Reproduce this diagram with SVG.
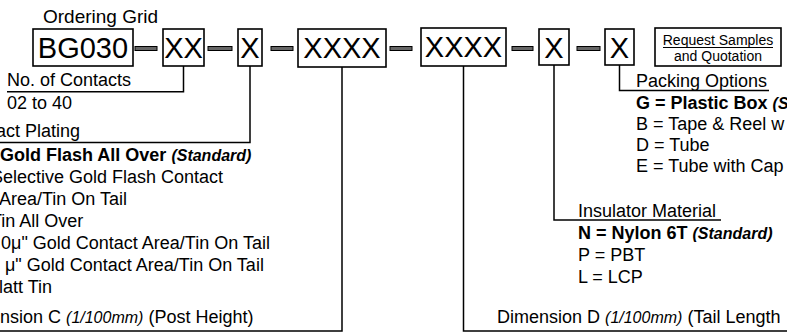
<svg xmlns="http://www.w3.org/2000/svg" width="787" height="336" viewBox="0 0 787 336">
<style>
text{font-family:"Liberation Sans",Arial,Helvetica,sans-serif;fill:#000}
.box{fill:#fff;stroke:#000;stroke-width:1.6}
.code{font-size:29px;text-anchor:middle}
.lbl{font-size:18px}
.b{font-weight:bold}
.it{font-style:italic;font-size:16px}
.wire{fill:none;stroke:#000;stroke-width:1.5}
.dash{fill:#666;stroke:#000;stroke-width:1}
.req{font-size:14px;text-anchor:middle}
</style>
<rect width="787" height="336" fill="#fff"/>
<g id="title"><text x="43" y="23" font-size="19">Ordering Grid</text></g>
<g id="connectors">
<rect class="dash" x="135" y="46.5" width="22" height="4"/>
<rect class="dash" x="208" y="46.5" width="24" height="4"/>
<rect class="dash" x="271" y="46.5" width="22" height="4"/>
<rect class="dash" x="390" y="46.5" width="22" height="4"/>
<rect class="dash" x="512" y="46.5" width="21" height="4"/>
<rect class="dash" x="577" y="46.5" width="23" height="4"/>
<path class="wire" d="M183.5 66V91.7H7"/>
<path class="wire" d="M250 66V142.5H0"/>
<path class="wire" d="M342 67V331H0"/>
<path class="wire" d="M463.5 66V331H787"/>
<path class="wire" d="M554 65V220H721"/>
<path class="wire" d="M619.5 65V90.5H769"/>
</g>
<g id="box-bg030"><rect class="box" x="33" y="29" width="100" height="37"/><text class="code" x="83" y="58" font-size="30">BG030</text></g>
<g id="box-xx"><rect class="box" x="163" y="29" width="41" height="37"/><text class="code" x="183.5" y="58">XX</text></g>
<g id="box-x1"><rect class="box" x="238" y="29" width="24" height="37"/><text class="code" x="250" y="58">X</text></g>
<g id="box-xxxx1"><rect class="box" x="298" y="29" width="88" height="38"/><text class="code" x="342" y="58">XXXX</text></g>
<g id="box-xxxx2"><rect class="box" x="421" y="28" width="85" height="38"/><text class="code" x="463.5" y="57">XXXX</text></g>
<g id="box-x2"><rect class="box" x="539" y="29" width="30" height="36"/><text class="code" x="554" y="58">X</text></g>
<g id="box-x3"><rect class="box" x="605" y="29" width="29" height="36"/><text class="code" x="619.5" y="58">X</text></g>
<g id="request"><rect class="box" x="655" y="28" width="126" height="38" stroke-width="2"/>
<text class="req" x="718" y="45">Request Samples</text><line x1="663" y1="47.5" x2="773" y2="47.5" stroke="#000" stroke-width="1"/>
<text class="req" x="718" y="61">and Quotation</text></g>
<g id="contacts">
<text class="lbl" x="7" y="86">No. of Contacts</text>
<text class="lbl" x="7" y="109">02 to 40</text>
</g>
<g id="plating">
<text class="lbl" x="-4" y="137">act Plating</text>
<text class="lbl b" x="0" y="161">Gold Flash All Over <tspan class="it">(Standard)</tspan></text>
<text class="lbl" x="-9" y="183">Selective Gold Flash Contact</text>
<text class="lbl" x="-1" y="205">Area/Tin On Tail</text>
<text class="lbl" x="-9" y="227">Tin All Over</text>
<text class="lbl" x="1" y="249">0μ" Gold Contact Area/Tin On Tail</text>
<text class="lbl" x="5" y="271">μ" Gold Contact Area/Tin On Tail</text>
<text class="lbl" x="-1" y="293">latt Tin</text>
</g>
<g id="dim-c"><text class="lbl" x="0" y="323">nsion C <tspan class="it" font-size="17">(1/100mm)</tspan> (Post Height)</text></g>
<g id="dim-d"><text class="lbl" x="497" y="323">Dimension D <tspan class="it" font-size="17">(1/100mm)</tspan> (Tail Length</text></g>
<g id="insulator">
<text class="lbl" x="578" y="217">Insulator Material</text>
<text class="lbl b" x="578" y="239">N = Nylon 6T <tspan class="it">(Standard)</tspan></text>
<text class="lbl" x="578" y="261">P = PBT</text>
<text class="lbl" x="578" y="283">L = LCP</text>
</g>
<g id="packing">
<text class="lbl" x="636" y="87">Packing Options</text>
<text class="lbl b" x="636" y="109">G = Plastic Box <tspan class="it">(S</tspan></text>
<text class="lbl" x="636" y="130">B = Tape &amp; Reel w</text>
<text class="lbl" x="636" y="151">D = Tube</text>
<text class="lbl" x="636" y="172">E = Tube with Cap</text>
</g>
</svg>
